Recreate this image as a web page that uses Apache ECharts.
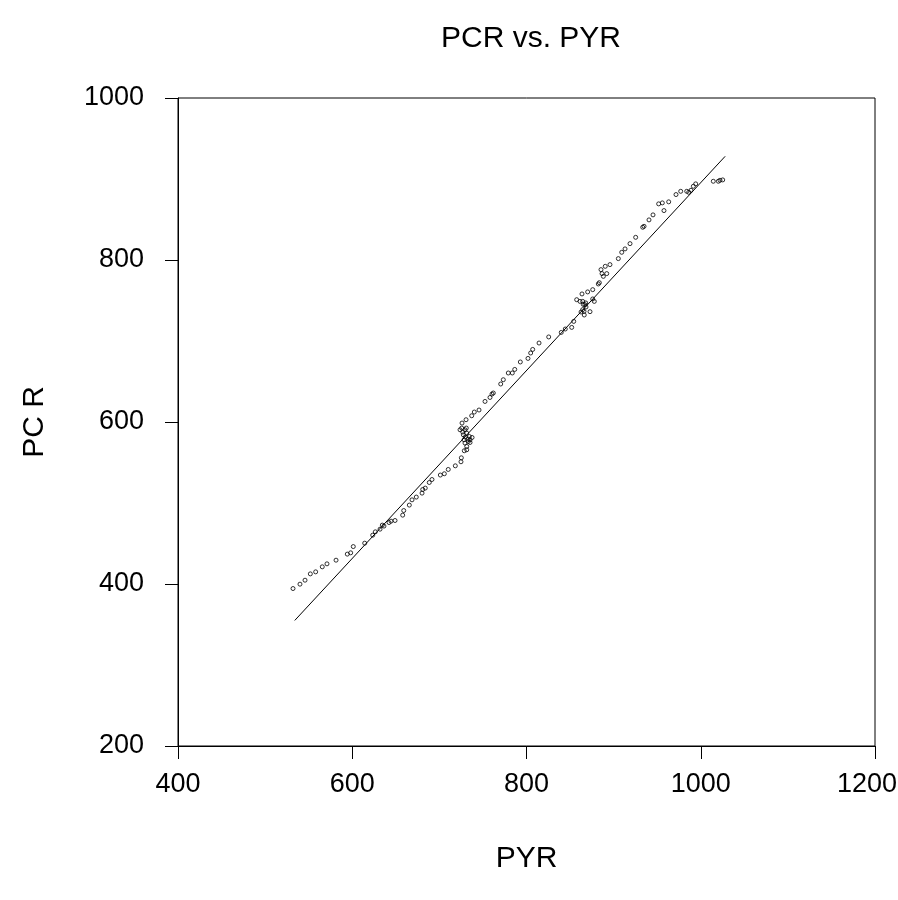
<!DOCTYPE html>
<html>
<head>
<meta charset="utf-8">
<script src="https://cdn.jsdelivr.net/npm/echarts@6/dist/echarts.min.js"></script>
<style>html,body{margin:0;padding:0;background:#fff;overflow:hidden;width:898px;height:900px;}#chart{width:898px;height:900px;}</style>
</head>
<body>
<div id="chart"></div>
<script>
var titleText = 'PCR vs. PYR';
var xName = 'PYR';
var yName = 'PC R';
var xTicks = [400, 600, 800, 1000, 1200];
var yTicks = [200, 400, 600, 800, 1000];

var pyr = [532.0,540.0,545.8,551.9,558.0,565.6,571.0,581.4,594.3,598.2,601.2,614.3,623.5,626.5,631.9,636.4,634.5,642.2,644.5,649.1,
  657.9,659.1,665.5,668.6,673.5,680.1,680.9,683.8,688.4,691.5,701.1,705.7,710.2,718.3,724.8,725.2,731.4,728.6,731.4,729.4,
  733.2,735.2,734.4,737.5,729.8,727.5,731.4,729.4,723.7,725.6,726.8,730.9,726.0,730.6,737.1,740.1,745.5,752.4,735.2,732.9,
  728.3,758.1,760.4,761.9,770.4,773.4,779.1,783.7,786.5,792.9,801.7,804.8,807.1,814.4,825.5,839.9,844.5,851.9,854.2,862.6,
  866.3,868.3,865.2,861.4,866.0,872.9,864.5,867.1,864.5,868.0,857.6,877.8,876.0,863.7,870.2,876.0,882.4,883.6,888.2,886.7,
  892.1,885.5,890.4,895.8,905.4,909.3,913.1,918.8,925.3,933.4,934.9,940.6,945.2,951.7,955.9,957.8,963.2,971.6,977.0,983.9,
  986.2,988.8,991.5,994.2,1014.4,1020.2,1022.1,1025.2];
var pcr = [394.4,399.8,404.7,412.5,415.0,421.2,424.9,429.4,436.9,438.5,446.2,450.4,460.3,464.4,467.7,471.5,472.7,475.9,477.6,478.4,
  485.0,490.7,497.4,503.9,507.3,512.2,516.7,518.4,525.3,529.0,534.5,536.1,541.4,545.9,550.9,555.8,565.7,564.5,569.8,574.0,
  576.0,578.1,582.1,580.9,581.4,584.2,586.3,590.4,590.4,592.5,587.6,592.5,598.7,602.8,607.7,612.3,614.8,625.4,574.7,578.9,
  578.1,630.3,634.5,635.8,646.9,652.2,660.5,660.5,664.9,674.1,678.5,685.2,689.6,697.5,705.0,710.6,714.8,716.8,724.2,735.8,
  732.1,742.0,745.2,748.9,736.6,736.2,738.7,744.9,748.9,747.0,751.0,748.9,751.9,758.1,760.6,763.4,770.4,772.0,779.8,783.2,
  783.2,788.1,792.2,794.3,801.7,809.5,813.7,820.2,828.0,840.4,841.6,849.5,855.7,869.3,870.5,861.0,871.8,880.8,884.8,884.8,
  883.6,886.1,891.0,894.0,897.2,897.2,898.4,898.9];
var fitX = [534, 1028];
var fitY = [355, 928];

var points = pyr.map(function (x, i) { return [x, pcr[i]]; });
var fitLine = fitX.map(function (x, i) { return [x, fitY[i]]; });

var chart = echarts.init(document.getElementById('chart'), null, { width: 898, height: 900 });
var font = 'Arial, "Liberation Sans", sans-serif';
var plain = function (v) { return String(v); };
var xFmt = function (v) {
  return v === xTicks[xTicks.length - 1] ? '{last|' + v + '}' : String(v);
};
chart.setOption({
  animation: false,
  backgroundColor: '#fff',
  title: {
    text: titleText, left: 526, textAlign: 'center', top: 19,
    textStyle: { fontFamily: font, fontSize: 30, fontWeight: 'normal', color: '#000' }
  },
  grid: { left: 178, right: 23, top: 98, bottom: 154, show: true, borderColor: '#000', borderWidth: 1,
          containLabel: false, outerBoundsMode: 'none' },
  xAxis: {
    type: 'value', min: xTicks[0], max: xTicks[xTicks.length - 1], interval: 200,
    name: xName, nameLocation: 'middle', nameGap: 98,
    nameTextStyle: { fontFamily: font, fontSize: 30, color: '#000' },
    axisLine: { show: true, lineStyle: { color: '#000', width: 1 } },
    axisTick: { show: true, inside: false, length: 13, lineStyle: { color: '#000' } },
    axisLabel: { fontFamily: font, fontSize: 27, color: '#000', margin: 25, formatter: xFmt,
                 rich: { last: { fontFamily: font, fontSize: 27, color: '#000', padding: [0, 16, 0, 0] } } },
    splitLine: { show: false }
  },
  yAxis: {
    type: 'value', min: yTicks[0], max: yTicks[yTicks.length - 1], interval: 200,
    name: yName, nameLocation: 'middle', nameGap: 128, nameRotate: 90,
    nameTextStyle: { fontFamily: font, fontSize: 30, color: '#000' },
    axisLine: { show: true, lineStyle: { color: '#000', width: 1 } },
    axisTick: { show: true, inside: false, length: 13, lineStyle: { color: '#000' } },
    axisLabel: { fontFamily: font, fontSize: 27, color: '#000', margin: 34, formatter: plain },
    splitLine: { show: false }
  },
  series: [
    {
      type: 'line', data: fitLine, symbol: 'none',
      lineStyle: { color: '#000', width: 1 }, silent: true
    },
    {
      type: 'scatter', data: points, symbol: 'circle', symbolSize: 4,
      itemStyle: { color: 'rgba(255,255,255,0)', borderColor: '#000', borderWidth: 1 }
    }
  ]
});
</script>
</body>
</html>
